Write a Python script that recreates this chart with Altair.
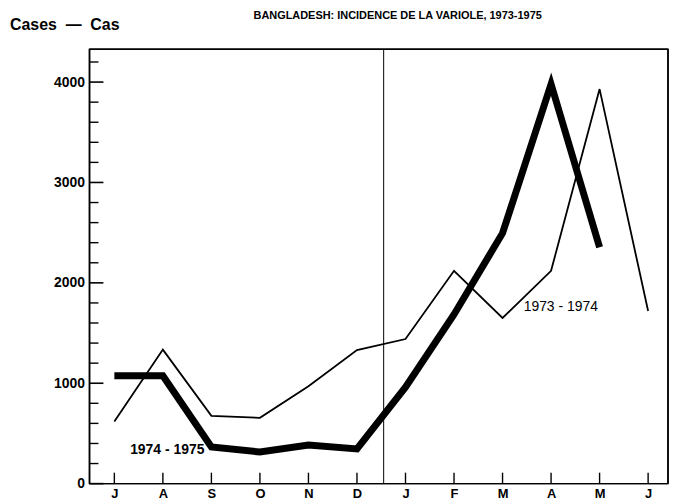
import altair as alt
import pandas as pd

months = ["J", "A", "S", "O", "N", "D", "J", "F", "M", "A", "M", "J"]
cases_1973_1974 = [620, 1335, 675, 655, 970, 1330, 1440, 2120, 1650, 2120, 3930, 1720]
cases_1974_1975 = [1075, 1075, 365, 315, 385, 345, 960, 1685, 2495, 3980, 2355]
major_ticks = [0, 1000, 2000, 3000, 4000]
minor_ticks = [200, 400, 600, 800, 1200, 1400, 1600, 1800, 2200, 2400, 2600, 2800,
               3200, 3400, 3600, 3800, 4200]
year_break = [5.55]
label_1974_1975 = {"text": "1974 - 1975", "idx": 1.09, "cases": 330}
label_1973_1974 = {"text": "1973 - 1974", "idx": 9.2, "cases": 1760}
title_text = "BANGLADESH: INCIDENCE DE LA VARIOLE, 1973-1975"
y_title_text = "Cases\u00a0\u00a0\u2014\u00a0\u00a0Cas"

FONT = "Liberation Sans"
W, H = 582, 437

xs = alt.Scale(domain=[-0.512, 11.41], nice=False, zero=False)
ys = alt.Scale(domain=[0, 4327], nice=False, zero=False)

thin = pd.DataFrame({"idx": list(range(len(cases_1973_1974))), "cases": cases_1973_1974})
thick = pd.DataFrame({"idx": list(range(len(cases_1974_1975))), "cases": cases_1974_1975})

x_enc = alt.X("idx:Q", scale=xs,
              axis=alt.Axis(values=list(range(12)), grid=False, domain=False, ticks=False,
                            labelExpr="['" + "','".join(months) + "'][datum.value]",
                            labelFont=FONT, labelFontSize=13, labelFontWeight="bold",
                            labelColor="black", labelPadding=4, title=None))
y_enc = alt.Y("cases:Q", scale=ys,
              axis=alt.Axis(values=major_ticks, format="d", grid=False, domain=False,
                            ticks=False, labelFont=FONT, labelFontSize=14,
                            labelFontWeight="bold", labelColor="black", labelPadding=5,
                            title=None))

thin_line = alt.Chart(thin).mark_line(color="black", strokeWidth=1.8,
                                      strokeJoin="miter").encode(x=x_enc, y=y_enc)
thick_line = alt.Chart(thick).mark_line(color="black", strokeWidth=7, strokeJoin="miter",
                                        strokeCap="butt").encode(
    x=alt.X("idx:Q", scale=xs), y=alt.Y("cases:Q", scale=ys))

sep = alt.Chart(pd.DataFrame({"idx": year_break})).mark_rule(
    color="black", strokeWidth=1).encode(x=alt.X("idx:Q", scale=xs))

ymaj = alt.Chart(pd.DataFrame({"cases": major_ticks})).mark_rule(
    color="black", strokeWidth=1.6).encode(
    y=alt.Y("cases:Q", scale=ys), x=alt.value(0), x2=alt.value(14))
ymin = alt.Chart(pd.DataFrame({"cases": minor_ticks})).mark_rule(
    color="black", strokeWidth=1.4).encode(
    y=alt.Y("cases:Q", scale=ys), x=alt.value(0), x2=alt.value(9))
xt = alt.Chart(pd.DataFrame({"idx": list(range(12))})).mark_rule(
    color="black", strokeWidth=1.4).encode(
    x=alt.X("idx:Q", scale=xs), y=alt.value(H), y2=alt.value(H - 11))

# plot frame
frame_top = alt.Chart().mark_rule(color="black", strokeWidth=1.5).encode(
    x=alt.value(0), x2=alt.value(W), y=alt.value(0))
frame_bottom = alt.Chart().mark_rule(color="black", strokeWidth=1.5).encode(
    x=alt.value(0), x2=alt.value(W), y=alt.value(H))
frame_left = alt.Chart().mark_rule(color="black", strokeWidth=1.5).encode(
    y=alt.value(0), y2=alt.value(H), x=alt.value(0))
frame_right = alt.Chart().mark_rule(color="black", strokeWidth=1.5).encode(
    y=alt.value(0), y2=alt.value(H), x=alt.value(W))

lab_a = alt.Chart(pd.DataFrame([label_1974_1975])).mark_text(
    font=FONT, fontSize=14, fontWeight="bold", color="black", align="center",
    baseline="middle").encode(x=alt.X("idx:Q", scale=xs), y=alt.Y("cases:Q", scale=ys),
                              text="text:N")
lab_b = alt.Chart(pd.DataFrame([label_1973_1974])).mark_text(
    font=FONT, fontSize=14, fontWeight="normal", color="black", align="center",
    baseline="middle").encode(x=alt.X("idx:Q", scale=xs), y=alt.Y("cases:Q", scale=ys),
                              text="text:N")

ytitle = alt.Chart(pd.DataFrame({"t": [y_title_text]})).mark_text(
    font=FONT, fontSize=16, fontWeight="bold", color="black", align="left",
    baseline="alphabetic").encode(text="t:N", x=alt.value(-80), y=alt.value(-19))

title = alt.Chart(pd.DataFrame({"t": [title_text]})).mark_text(
    font=FONT, fontSize=11, fontWeight="bold", color="black", align="center",
    baseline="alphabetic").encode(text="t:N", x=alt.value(310), y=alt.value(-30))

chart = alt.layer(thin_line, thick_line, sep, ymaj, ymin, xt,
                  frame_top, frame_bottom, frame_left, frame_right,
                  lab_a, lab_b, ytitle, title).properties(
    width=W, height=H,
    autosize=alt.AutoSizeParams(type="none"),
    padding={"left": 82, "top": 40, "right": 2, "bottom": 19},
).configure(background="white",
            view=alt.ViewConfig(stroke="black", strokeWidth=1.5))

chart.save("out.html", embed_options={"renderer": "svg", "actions": False})
